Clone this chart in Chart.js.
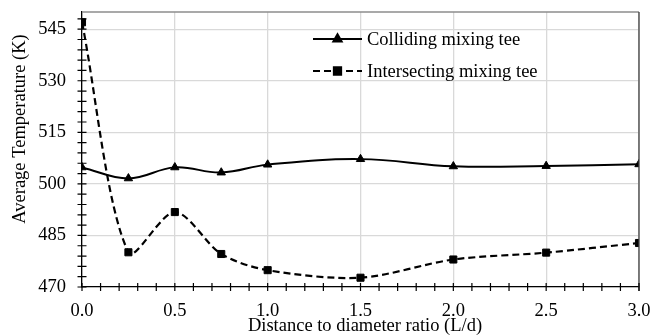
<!doctype html>
<html lang="en">
  <head>
    <meta charset="utf-8">
    <title>Average temperature along the tee</title>
    <style>
        *{
            box-sizing: border-box;
            margin:0;
            padding:0;
        }
        body{
            background-color:#fff;
        }
    </style>
  </head>
  <body>
    <canvas id="myChart" width="653" height="335"></canvas>

    <script src="https://cdn.jsdelivr.net/npm/chart.js@4.4.0/dist/chart.umd.min.js"></script>
    <script>

// distance to diameter ratio (L/d)
const ratio = [0, 0.25, 0.5, 0.75, 1.0, 1.5, 2.0, 2.5, 3.0];
// average temperature (K)
const colliding = [504.8, 501.6, 504.8, 503.3, 505.6, 507.2, 505.1, 505.2, 505.7];
const intersecting = [547.0, 480.1, 491.8, 479.6, 474.9, 472.7, 478.0, 480.0, 482.8];
const seriesNames = ['Colliding mixing tee', 'Intersecting mixing tee'];
const yTicks = [470, 485, 500, 515, 530, 545];
const xTicks = [0, 0.5, 1.0, 1.5, 2.0, 2.5, 3.0];
const xTitle = 'Distance to diameter ratio (L/d)';
const yTitle = 'Average Temperature (K)';

const serif = 'Liberation Serif, Times New Roman, serif';
const fontSize = 18.5;

function points(ys) {
    return ratio.map((x, i) => ({x: x, y: ys[i]}));
}

// keep the plot box fixed: no extra room for the end labels
function noPadding(scale) {
    scale.paddingTop = 0;
    scale.paddingBottom = 0;
    scale.paddingLeft = 0;
    scale.paddingRight = 0;
}

// minor tick marks, plot frame, axis titles and the legend inside the plot
const extras = {
    id: 'extras',
    afterDraw(chart) {
        const c = chart.ctx;
        const xs = chart.scales.x, ys = chart.scales.y;
        const a = chart.chartArea;
        c.save();
        // frame: top grey, right dark
        c.lineWidth = 1.3;
        c.strokeStyle = '#8c8c8c';
        c.beginPath();
        c.moveTo(a.left, a.top);
        c.lineTo(a.right, a.top);
        c.stroke();
        c.strokeStyle = '#404040';
        c.beginPath();
        c.moveTo(a.right, a.top);
        c.lineTo(a.right, a.bottom + 4);
        c.stroke();

        c.strokeStyle = '#000';
        c.lineWidth = 1.2;
        c.beginPath();
        for (let v = 470; v <= 548; v += 3) {
            const py = ys.getPixelForValue(v);
            c.moveTo(a.left - 4.5, py);
            c.lineTo(a.left + 4.5, py);
        }
        for (let i = 0; i <= 30; i++) {
            const px = xs.getPixelForValue(i / 10);
            c.moveTo(px, a.bottom - 4);
            c.lineTo(px, a.bottom + 4);
        }
        c.stroke();

        // axis titles
        c.fillStyle = '#000';
        c.font = fontSize + 'px ' + serif;
        c.textAlign = 'center';
        c.textBaseline = 'middle';
        c.fillText(xTitle, 365, 326);
        c.save();
        c.translate(20, 129);
        c.rotate(-Math.PI / 2);
        c.fillText(yTitle, 0, 0);
        c.restore();

        // legend
        const rows = [chart.data.datasets[0], chart.data.datasets[1]];
        const lx0 = 313, lx1 = 362, tx = 367;
        const ly = [39, 71];
        rows.forEach((ds, i) => {
            c.strokeStyle = '#000';
            c.lineWidth = ds.borderWidth;
            c.setLineDash(ds.borderDash || []);
            c.beginPath();
            c.moveTo(lx0, ly[i]);
            c.lineTo(lx1, ly[i]);
            c.stroke();
            c.setLineDash([]);
            c.fillStyle = '#000';
            Chart.helpers.drawPoint(c, {
                pointStyle: ds.pointStyle,
                radius: ds.pointRadius,
                borderWidth: 1,
                rotation: 0
            }, (lx0 + lx1) / 2, ly[i]);
            c.fill();
            c.font = fontSize + 'px ' + serif;
            c.textAlign = 'left';
            c.textBaseline = 'middle';
            c.fillText(ds.label, tx, ly[i] + 1);
        });
        c.restore();
    }
};

const ctx = document.getElementById('myChart').getContext('2d');
const myChart = new Chart(ctx, {
    type: 'line',
    data: {
        datasets: [{
            label: seriesNames[0],
            data: points(colliding),
            borderColor: '#000',
            backgroundColor: '#000',
            borderWidth: 2,
            pointStyle: 'triangle',
            pointRadius: 4.8,
            pointBorderWidth: 1,
            tension: 0.4
        }, {
            label: seriesNames[1],
            data: points(intersecting),
            borderColor: '#000',
            backgroundColor: '#000',
            borderWidth: 2.2,
            borderDash: [7, 4],
            pointStyle: 'rect',
            pointRadius: 5,
            pointBorderWidth: 1,
            tension: 0.3
        }]
    },
    options: {
        responsive: false,
        animation: false,
        layout: {
            autoPadding: false,
            padding: {top: 12, right: 14, left: 0, bottom: 0}
        },
        plugins: {
            legend: {display: false},
            tooltip: {enabled: false}
        },
        scales: {
            x: {
                type: 'linear',
                min: 0,
                max: 3,
                afterFit(scale) { scale.height = 48; noPadding(scale); },
                afterBuildTicks(scale) {
                    scale.ticks = xTicks.map(v => ({value: v}));
                },
                ticks: {
                    color: '#000',
                    padding: 13,
                    maxRotation: 0,
                    font: {family: serif, size: fontSize},
                    callback: v => Number(v).toFixed(1)
                },
                grid: {
                    color: '#d9d9d9',
                    lineWidth: 1.3,
                    drawTicks: false
                },
                border: {color: '#000', width: 1.3}
            },
            y: {
                min: 470,
                max: 550,
                afterFit(scale) { scale.width = 82; noPadding(scale); },
                afterBuildTicks(scale) {
                    scale.ticks = yTicks.map(v => ({value: v}));
                },
                ticks: {
                    color: '#000',
                    padding: 16,
                    font: {family: serif, size: fontSize}
                },
                grid: {
                    color: '#d9d9d9',
                    lineWidth: 1.3,
                    drawTicks: false
                },
                border: {color: '#000', width: 1.3}
            }
        }
    },
    plugins: [extras]
});
      </script>
</body>
</html>
